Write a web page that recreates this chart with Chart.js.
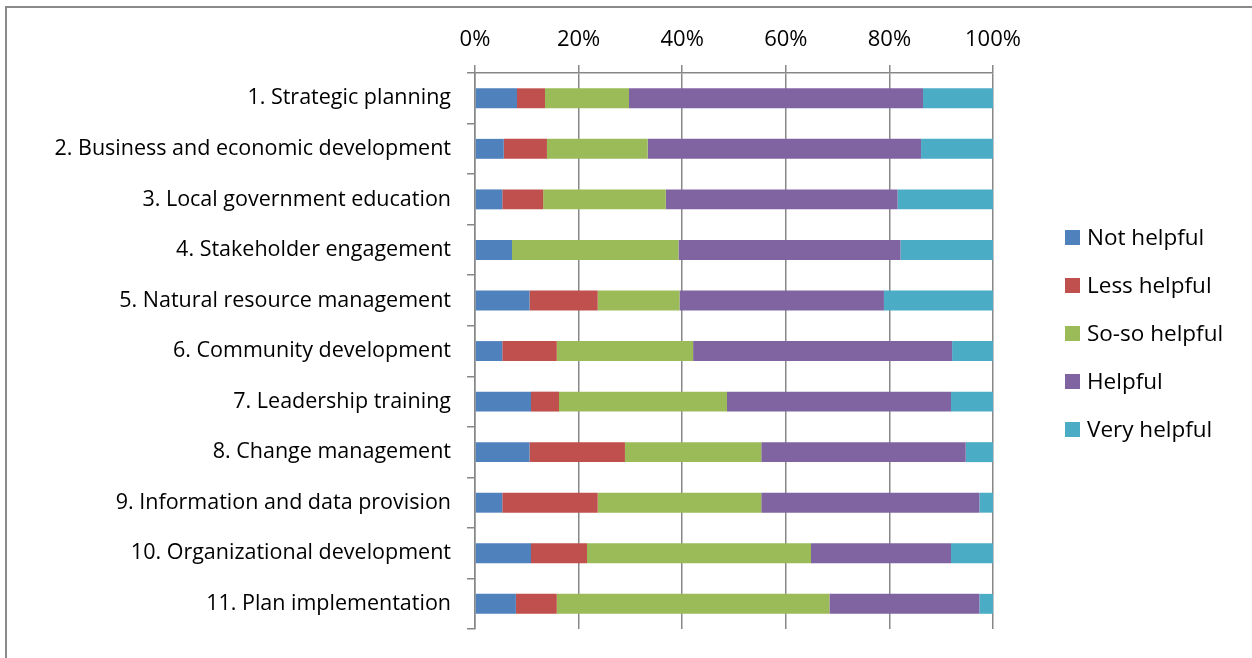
<!DOCTYPE html>
<html>
<head>
<meta charset="utf-8">
<script src="https://cdn.jsdelivr.net/npm/chart.js@4.4.0/dist/chart.umd.min.js"></script>
<style>
  html, body { margin: 0; padding: 0; background: #fff; }
  #wrap { position: relative; width: 1252px; height: 658px; overflow: hidden; font-family: "Open Sans", Lato, sans-serif; }
  #frame { position: absolute; left: 5px; top: 6px; width: 1400px; height: 800px;
           border-top: 2px solid #8a8a8a; border-left: 2px solid #8a8a8a; }
  canvas { position: absolute; left: 0; top: 0; }
  #legend { position: absolute; left: 1065px; top: 223px; }
  .item { height: 48px; display: flex; align-items: flex-start; font-size: 22.5px; line-height: 28px; color: #000; }
  .sw { width: 15px; height: 15px; margin-top: 7px; margin-right: 7px; }
</style>
</head>
<body>
<div id="wrap">
  <div id="frame"></div>
  <canvas id="chart" width="1252" height="658"></canvas>
  <div id="legend"></div>
</div>
<script>
  // categories (top to bottom)
  const categories = [
    "1. Strategic planning",
    "2. Business and economic development",
    "3. Local government education",
    "4. Stakeholder engagement",
    "5. Natural resource management",
    "6. Community development",
    "7. Leadership training",
    "8. Change management",
    "9. Information and data provision",
    "10. Organizational development",
    "11. Plan implementation"
  ];

  // response counts (each bar is 100%)
  const notHelpful  = [3, 2, 2, 2, 4, 2, 4, 4, 2, 4, 3];
  const lessHelpful = [2, 3, 3, 0, 5, 4, 2, 7, 7, 4, 3];
  const sosoHelpful = [6, 7, 9, 9, 6, 10, 12, 10, 12, 16, 20];
  const helpful     = [21, 19, 17, 12, 15, 19, 16, 15, 16, 10, 11];
  const veryHelpful = [5, 5, 7, 5, 8, 3, 3, 2, 1, 3, 1];

  const seriesNames  = ["Not helpful", "Less helpful", "So-so helpful", "Helpful", "Very helpful"];
  const seriesColors = ["#4F81BD", "#C0504D", "#9BBB59", "#8064A2", "#4BACC6"];
  const xTicks = [0, 20, 40, 60, 80, 100];

  const counts = [notHelpful, lessHelpful, sosoHelpful, helpful, veryHelpful];
  const totals = categories.map((_, i) => counts.reduce((s, arr) => s + arr[i], 0));
  const toPct = arr => arr.map((v, i) => v / totals[i] * 100);

  const gridColor = "#878787";
  const family = "'Open Sans', Lato, sans-serif";

  const chart = new Chart(document.getElementById("chart"), {
    type: "bar",
    data: {
      labels: categories,
      datasets: counts.map((arr, k) => ({
        label: seriesNames[k],
        data: toPct(arr),
        backgroundColor: seriesColors[k],
        borderWidth: 0,
        categoryPercentage: 1,
        barPercentage: 0.394
      }))
    },
    options: {
      indexAxis: "y",
      responsive: false,
      animation: false,
      layout: { padding: { left: 0, top: 0, right: 259, bottom: 26 } },
      plugins: { legend: { display: false }, tooltip: { enabled: false } },
      scales: {
        x: {
          position: "top",
          stacked: true,
          min: 0, max: 100,
          afterBuildTicks: s => { s.ticks = xTicks.map(v => ({ value: v })); },
          afterFit: s => { s.height = 73; },
          ticks: { color: "#000", font: { family, size: 22 }, padding: 12, callback: v => v + "%" },
          grid: { color: gridColor, lineWidth: 1.5, tickLength: 8 },
          border: { display: true, color: gridColor, width: 1.5 }
        },
        y: {
          stacked: true,
          afterFit: s => { s.width = 475; },
          ticks: { color: "#000", font: { family, size: 21.5 }, padding: 16 },
          grid: { offset: true, drawOnChartArea: false, color: gridColor, lineWidth: 1.5, tickLength: 8 },
          border: { display: true, color: gridColor, width: 1.5 }
        }
      }
    }
  });

  // legend built from the datasets
  const legend = document.getElementById("legend");
  chart.data.datasets.forEach(ds => {
    const row = document.createElement("div");
    row.className = "item";
    row.innerHTML = '<div class="sw" style="background:' + ds.backgroundColor + '"></div><span>' + ds.label + '</span>';
    legend.appendChild(row);
  });
</script>
</body>
</html>
